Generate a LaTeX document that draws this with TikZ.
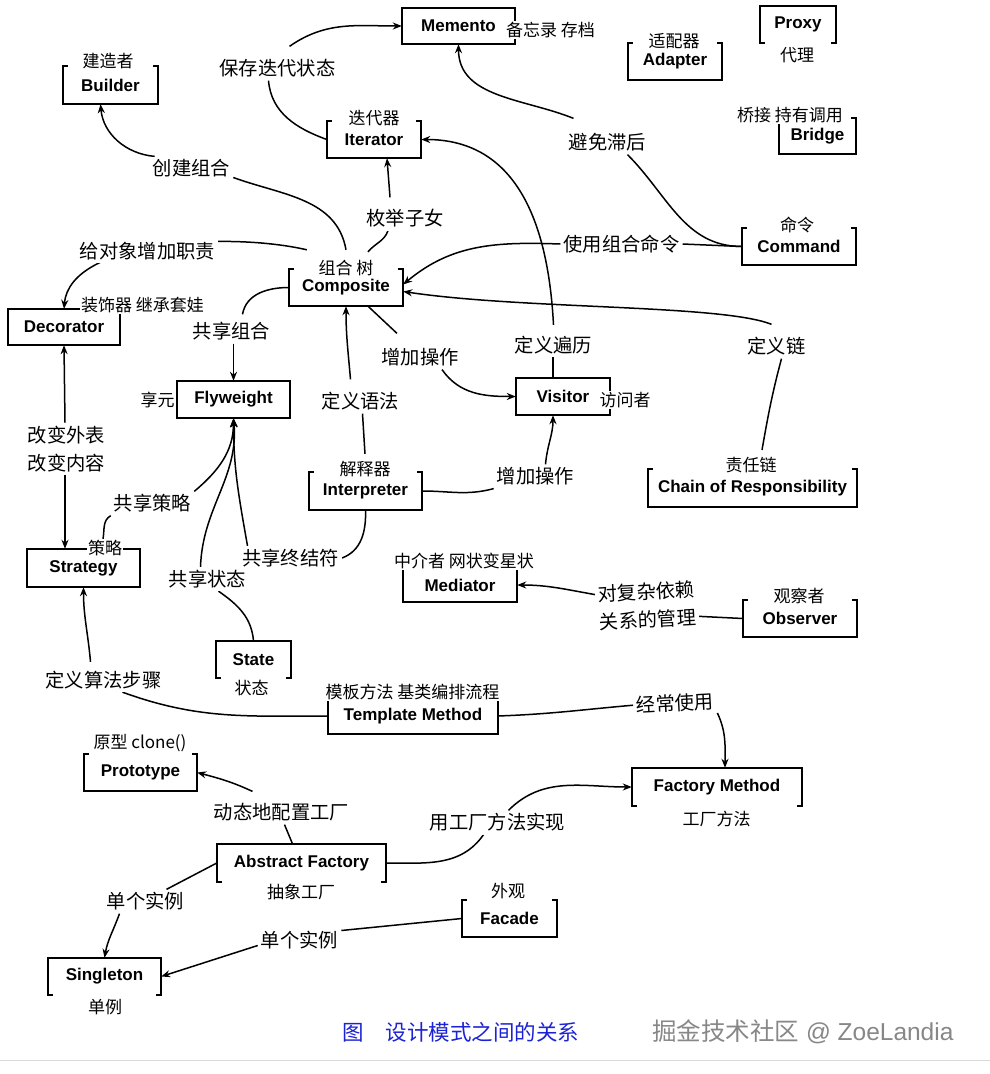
\documentclass[tikz,border=0pt]{standalone}
\usepackage{fontspec}
\setmainfont{Liberation Sans}
\newfontfamily\cjk{Noto Sans CJK SC}
\usetikzlibrary{arrows.meta}
\pgfdeclarelayer{back}
\pgfdeclarelayer{bg}
\pgfsetlayers{back,bg,main}
\definecolor{capblue}{RGB}{28,34,214}
\definecolor{wmgray}{RGB}{135,135,135}
\newcommand\openTop[1]{\draw[boxln] ([xshift=5pt]#1.north west) -- (#1.north west) -- (#1.south west) -- (#1.south east) -- (#1.north east) -- ([xshift=-5pt]#1.north east);}
\newcommand\openBot[1]{\draw[boxln] ([xshift=5pt]#1.south west) -- (#1.south west) -- (#1.north west) -- (#1.north east) -- (#1.south east) -- ([xshift=-5pt]#1.south east);}
\newcommand\closedBox[1]{\draw[boxln] (#1.north west) rectangle (#1.south east);}
\begin{document}
\begin{tikzpicture}[x=1pt,y=1pt,
  pbox/.style={inner sep=0pt, font=\bfseries\fontsize{17}{20}\selectfont},
  blab/.style={font=\cjk\fontsize{17}{19}\selectfont, inner sep=1pt, fill=white},
  elab/.style={font=\cjk\fontsize{19.3}{22}\selectfont, inner sep=3pt, fill=white},
  conn/.style={line width=1.5pt},
  arr/.style={conn, -{Stealth[length=9pt,width=7pt]}},
  boxln/.style={line width=1.8pt, line join=miter}
]
\begin{pgfonlayer}{back}
\fill[white] (0,0) rectangle (990,-1074);
\end{pgfonlayer}
\useasboundingbox (0,0) rectangle (990,-1074);

% ---------- pattern boxes ----------
\node[pbox,minimum width=113pt,minimum height=36pt] (mem) at (458.5,-26) {Memento};
\node[pbox,minimum width=95pt,minimum height=38pt] (build) at (110.5,-85) {Builder};
\node[pbox,minimum width=94pt,minimum height=37pt] (iter) at (374,-139.5) {Iterator};
\node[pbox,minimum width=94pt,minimum height=37pt] (adapt) at (675,-61.5) {Adapter};
\node[pbox,minimum width=76pt,minimum height=37pt] (proxy) at (798,-24.5) {Proxy};
\node[pbox,minimum width=77pt,minimum height=36pt] (bridge) at (817.5,-136) {Bridge};
\node[pbox,minimum width=114pt,minimum height=37pt] (cmd) at (799,-246.5) {Command};
\node[pbox,minimum width=114pt,minimum height=37pt] (comp) at (346,-287.5) {Composite};
\node[pbox,minimum width=112pt,minimum height=36pt] (dec) at (64,-327) {Decorator};
\node[pbox,minimum width=113pt,minimum height=37pt] (fly) at (233.5,-399.5) {Flyweight};
\node[pbox,minimum width=94pt,minimum height=37pt] (vis) at (563,-396.5) {Visitor};
\node[pbox,minimum width=113pt,minimum height=38pt] (inter) at (365.5,-491) {Interpreter};
\node[pbox,minimum width=209pt,minimum height=38pt] (chain) at (752.5,-488) {Chain of Responsibility};
\node[pbox,minimum width=113pt,minimum height=38pt] (strat) at (83.5,-568) {Strategy};
\node[pbox,minimum width=114pt,minimum height=34pt] (med) at (460,-585) {Mediator};
\node[pbox,minimum width=114pt,minimum height=37pt] (obs) at (800,-618.5) {Observer};
\node[pbox,minimum width=75pt,minimum height=37pt] (state) at (253.5,-659.5) {State};
\node[pbox,minimum width=169pt,minimum height=36pt] (tm) at (413,-716) {Template Method};
\node[pbox,minimum width=113pt,minimum height=37pt] (proto) at (140.5,-772.5) {Prototype};
\node[pbox,minimum width=170pt,minimum height=38pt] (fm) at (717,-787) {Factory Method};
\node[pbox,minimum width=169pt,minimum height=38pt] (af) at (301.5,-863) {Abstract Factory};
\node[pbox,minimum width=95pt,minimum height=37pt] (fac) at (509.5,-918.5) {Facade};
\node[pbox,minimum width=113pt,minimum height=37pt] (sing) at (104.5,-976.5) {Singleton};

% ---------- outlines ----------
\closedBox{mem}
\openTop{build}
\openTop{iter}
\openTop{adapt}
\openBot{proxy}
\openTop{bridge}
\openTop{cmd}
\openTop{comp}
\closedBox{dec}
\closedBox{fly}
\closedBox{vis}
\openTop{inter}
\openTop{chain}
\closedBox{strat}
\openTop{med}
\openTop{obs}
\openBot{state}
\openTop{tm}
\openTop{proto}
\openBot{fm}
\openBot{af}
\openTop{fac}
\openBot{sing}

% ---------- box labels ----------
\node[blab] (memlab) at (550.5,-30) {备忘录 存档};
\node[blab] (buildlab) at (108,-61) {建造者};
\node[blab] (iterlab) at (374,-118) {迭代器};
\node[blab] (adaptlab) at (674,-41) {适配器};
\node[blab] (proxylab) at (797,-55) {代理};
\node[blab] (bridgelab) at (790,-115) {桥接 持有调用};
\node[blab] (cmdlab) at (797,-225) {命令};
\node[blab] (complab) at (346,-268) {组合 树};
\node[blab] (declab) at (142.5,-305) {装饰器 继承套娃};
\node[blab] (flylab) at (157.5,-400) {享元};
\node[blab] (vislab) at (625,-400) {访问者};
\node[blab] (interlab) at (365,-469) {解释器};
\node[blab] (chainlab) at (751,-465) {责任链};
\node[blab] (stratlab) at (105,-548) {策略};
\node[blab] (medlab) at (464,-561) {中介者 网状变星状};
\node[blab] (obslab) at (799,-596) {观察者};
\node[blab] (statelab) at (251.5,-688) {状态};
\node[blab] (tmlab) at (412.5,-692) {模板方法 基类编排流程};
\node[blab] (protolab) at (140,-743) {原型 clone()};
\node[blab] (fmlab) at (716.5,-819) {工厂方法};
\node[blab] (aflab) at (301,-892) {抽象工厂};
\node[blab] (faclab) at (508,-891) {外观};
\node[blab] (singlab) at (105,-1007) {单例};

% ---------- edge labels ----------
\node[elab] (lA) at (277.5,-68.5) {保存迭代状态};
\node[elab] (lB) at (607.5,-142.5) {避免滞后};
\node[elab] (lC) at (621.5,-244) {使用组合命令};
\node[elab] (lD) at (776.5,-346.5) {定义链};
\node[elab] (lE) at (553.5,-345) {定义遍历};
\node[elab] (lF) at (405,-218.5) {枚举子女};
\node[elab] (lG) at (191.5,-168.5) {创建组合};
\node[elab] (lH) at (147.5,-251.5) {给对象增加职责};
\node[elab] (lI) at (231.5,-331.5) {共享组合};
\node[elab] (lJ) at (420,-357.5) {增加操作};
\node[elab] (lK) at (360.5,-401.5) {定义语法};
\node[elab] (lL) at (535.5,-476.5) {增加操作};
\node[elab,align=center,font=\cjk\fontsize{19.3}{28.5}\selectfont] (lM) at (66.5,-449) {改变外表\\改变内容};
\node[elab] (lN) at (152.5,-503.5) {共享策略};
\node[elab] (lO) at (207.5,-579) {共享状态};
\node[elab] (lP) at (290.5,-558) {共享终结符};
\node[elab,align=center,rotate=3,font=\cjk\fontsize{19.3}{28}\selectfont] (lQ) at (647,-606) {对复杂依赖\\关系的管理};
\node[elab] (lR) at (103.5,-680) {定义算法步骤};
\node[elab,rotate=3] (lS) at (675,-703) {经常使用};
\node[elab] (lT) at (497.5,-822.5) {用工厂方法实现};
\node[elab] (lU) at (281.5,-812.5) {动态地配置工厂};
\node[elab] (lV) at (145.5,-901.5) {单个实例};
\node[elab] (lW) at (299.5,-940.5) {单个实例};

% ---------- caption ----------
\node[font=\cjk\fontsize{21.5}{24}\selectfont, text=capblue, inner sep=0pt] (cap) at (461,-1032) {图\quad 设计模式之间的关系};
\node[font=\fontsize{24.5}{28}\selectfont, text=wmgray, anchor=west, inner sep=0pt] (wm) at (652,-1032) {{\cjk 掘金技术社区} @ ZoeLandia};
\draw[line width=1pt, color=black!15] (0,-1060) -- (990,-1060);

% ---------- connectors ----------
\begin{pgfonlayer}{bg}
% Iterator -> Memento
\draw[conn] (iter.west) to[out=160,in=-85] ([xshift=-9pt]lA.south);
\draw[arr] ([shift={(12,10)}]lA.north) to[out=35,in=180] (mem.west);
% Command -> Memento
\draw[conn] (cmd.west) to[out=180,in=-45] ([xshift=20pt]lB.south);
\draw[arr] ([shift={(-34,12)}]lB.north) to[out=158,in=-90] (mem.south);
% Command -> Composite
\draw[conn] (cmd.west) -- (lC.east);
\draw[arr] (lC.west) to[out=178,in=40] ([yshift=3pt]comp.east);
% Chain -> Composite
\draw[conn] ([shift={(11,6)}]chainlab.north) to[out=80,in=-105] ([xshift=5pt]lD.south);
\draw[arr] ([shift={(-5,10)}]lD.north) .. controls +(-50,20) and +(120,-18) .. ([yshift=-4pt]comp.east);
% Visitor -> Iterator
\draw[conn] ([xshift=-10pt]vis.north) -- ([xshift=-0.5pt]lE.south);
\draw[arr] ([yshift=8pt]lE.north) to[out=93,in=0,looseness=1.1] (iter.east);
% Composite -> Iterator
\draw[conn] ([shift={(22,17)}]comp.north) to[out=50,in=-110] ([xshift=-17pt]lF.south);
\draw[arr] ([shift={(-15,9)}]lF.north) -- ([xshift=13pt]iter.south);
% Composite -> Builder
\draw[conn] ([yshift=19pt]comp.north) to[out=100,in=-20] ([yshift=-9pt]lG.east);
\draw[arr] ([xshift=5pt]lG.north west) to[out=175,in=-85] ([xshift=-10pt]build.south);
% Composite -> Decorator (behind label)
\draw[arr] ([shift={(18,19)}]comp.north west) .. controls +(-77,18) and +(6,69) .. (dec.north);
% Composite -> Flyweight
\draw[conn] (comp.west) to[out=180,in=80] ([shift={(11,5)}]lI.north);
\draw[arr] ([xshift=2pt]lI.south) -- (fly.north);
% Composite -> Visitor
\draw[conn] ([xshift=22pt]comp.south) -- ([shift={(-23,12)}]lJ.north);
\draw[arr] ([xshift=22pt]lJ.south) to[out=-55,in=180] (vis.west);
% Interpreter -> Composite
\draw[conn] ([yshift=6pt]interlab.north) -- ([xshift=2pt]lK.south);
\draw[arr] ([shift={(-10,10)}]lK.north) to[out=95,in=-90] (comp.south);
% Interpreter -> Visitor
\draw[conn] (inter.east) to[out=0,in=195] (lL.south west);
\draw[arr] ([xshift=10pt]lL.north) to[out=85,in=-90] ([xshift=-10pt]vis.south);
% Decorator <-> Strategy
\draw[arr] ([xshift=-1.5pt]lM.north) -- (dec.south);
\draw[arr] ([xshift=-1.5pt]lM.south) -- ([xshift=-18.5pt]strat.north);
% Strategy -> Flyweight
\draw[conn] ([xshift=-2pt]stratlab.north) to[out=80,in=-150] (lN.south west);
\draw[arr] (lN.north east) to[out=40,in=-90] (fly.south);
% State -> Flyweight
\draw[conn] (state.north) to[out=95,in=-35] ([xshift=11pt]lO.south);
\draw[arr] ([xshift=-7pt]lO.north) to[out=88,in=-85] (fly.south);
% Interpreter -> Flyweight
\draw[conn] (inter.south) to[out=-88,in=20] (lP.east);
\draw[arr] ([xshift=-43pt]lP.north) to[out=100,in=-90] (fly.south);
% Observer -> Mediator
\draw[conn] (obs.west) -- ([yshift=-13pt]lQ.east);
\draw[arr] ([yshift=14pt]lQ.west) to[out=170,in=0] (med.east);
% Template Method -> Strategy
\draw[conn] (tm.west) to[out=180,in=-20] ([xshift=19pt]lR.south);
\draw[arr] ([shift={(-13,6)}]lR.north) to[out=95,in=-90] (strat.south);
% Template Method -> Factory Method
\draw[conn] (tm.east) to[out=2,in=185] (lS.west);
\draw[arr] (lS.south east) to[out=-65,in=90] ([xshift=8pt]fm.north);
% Abstract Factory -> Factory Method
\draw[conn] (af.east) to[out=0,in=-125] ([xshift=-14pt]lT.south);
\draw[arr] ([xshift=11pt]lT.north) to[out=45,in=180] (fm.west);
% Abstract Factory -> Prototype
\draw[conn] ([xshift=-9pt]af.north) -- ([xshift=3pt]lU.south);
\draw[arr] ([shift={(-29,9)}]lU.north) to[out=155,in=-15] (proto.east);
% Abstract Factory -> Singleton
\draw[conn] (af.west) -- ([xshift=21pt]lV.north);
\draw[arr] ([xshift=-26pt]lV.south) to[out=-110,in=80] (sing.north);
% Facade -> Singleton
\draw[conn] (fac.west) -- ([yshift=10pt]lW.east);
\draw[arr] ([yshift=-5pt]lW.west) -- (sing.east);
\end{pgfonlayer}
\end{tikzpicture}
\end{document}
